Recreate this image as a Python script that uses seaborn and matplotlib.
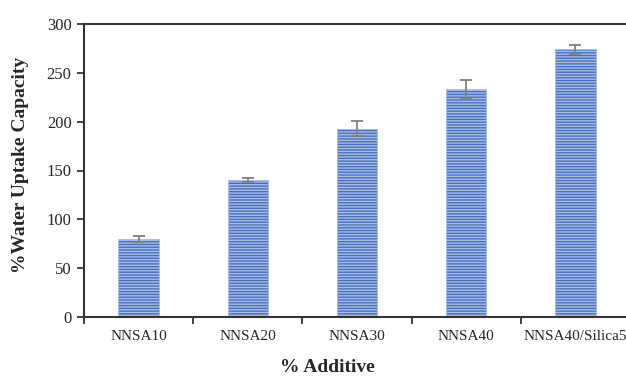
import numpy as np
import pandas as pd
import matplotlib
matplotlib.use('Agg')
import matplotlib.pyplot as plt
import seaborn as sns

# data
additives = ['NNSA10', 'NNSA20', 'NNSA30', 'NNSA40', 'NNSA40/Silica5']
uptake = [80, 140, 193, 233, 274]
uptake_err = [3, 2, 8, 10, 5]

sns.set_style('white')
plt.rcParams['font.family'] = ['Liberation Serif', 'DejaVu Serif']
plt.rcParams['hatch.linewidth'] = 1.0
plt.rcParams['hatch.color'] = '#a9bde6'

df = pd.DataFrame({'additive': additives, 'uptake': uptake})

fig = plt.figure(figsize=(6.26, 3.76), dpi=100)
ax = fig.add_axes([84 / 626, 1 - 317 / 376, 546 / 626, 293 / 376])

sns.barplot(data=df, x='additive', y='uptake', ax=ax, color='#4770c0',
            width=0.37, errorbar=None, saturation=1,
            edgecolor='#a9bde6', linewidth=0.6, hatch='------')

ax.errorbar(np.arange(len(additives)), uptake, yerr=uptake_err, fmt='none',
            ecolor='#808080', elinewidth=1.3, capsize=4, capthick=1.3)

ax.set_xlim(-0.5, len(additives) - 0.5)
ax.set_ylim(0, 300)
ax.set_yticks(np.arange(0, 301, 50))

# ticks between categories
ax.set_xticks(np.arange(-0.5, len(additives), 1.0), minor=True)
ax.tick_params(axis='x', which='major', length=0, pad=9, labelsize=11)
ax.tick_params(axis='x', which='minor', length=5, width=1.3, color='#333333',
               direction='out', bottom=True)
ax.tick_params(axis='y', length=5, width=1.3, color='#333333', direction='out',
               left=True, labelsize=12, pad=4)

for side in ['left', 'bottom', 'top']:
    ax.spines[side].set_visible(True)
    ax.spines[side].set_color('#333333')
    ax.spines[side].set_linewidth(1.5)
ax.spines['right'].set_visible(False)

ax.set_xlabel('% Additive', fontsize=14, fontweight='bold')
ax.set_ylabel('%Water Uptake Capacity', fontsize=14, fontweight='bold')
ax.xaxis.set_label_coords(0.445, -0.145)
ax.yaxis.set_label_coords(-0.1, 0.52)

fig.savefig('out.png', dpi=100)
